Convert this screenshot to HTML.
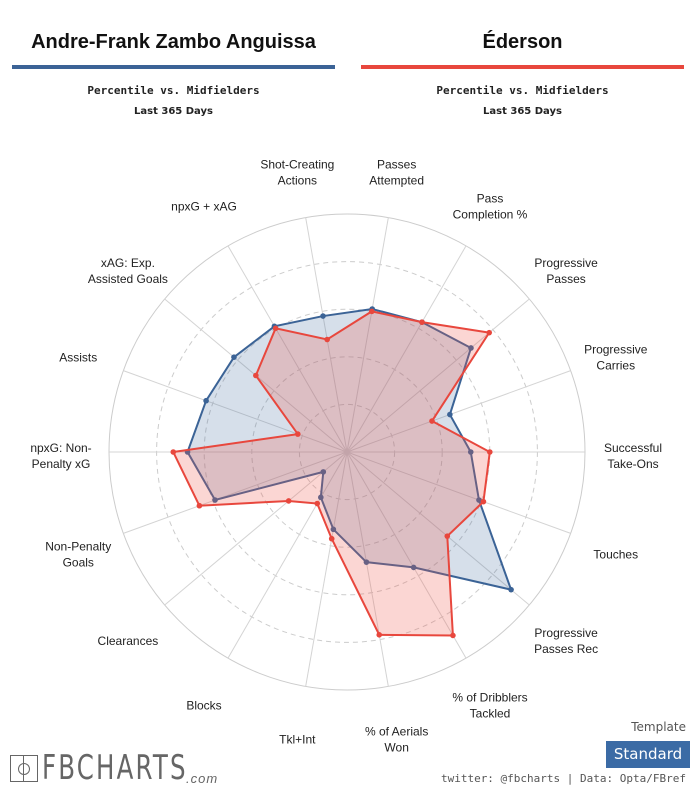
<!DOCTYPE html>
<html><head><meta charset="utf-8"><style>
body{margin:0;width:694px;height:790px;background:#fff;font-family:"Liberation Sans",sans-serif;position:relative;overflow:hidden}
.abs{position:absolute}
.name{font-weight:bold;font-size:20px;color:#111;text-align:center}
.sub{font-family:"DejaVu Sans Mono","Liberation Mono",monospace;font-weight:bold;font-size:11px;color:#222;text-align:center}
.sub2{font-family:"DejaVu Sans",sans-serif;font-weight:bold;font-size:10px;color:#222;text-align:center}
</style></head><body>
<div class="abs name" style="left:12px;top:31px;width:323px">Andre-Frank Zambo Anguissa</div>
<div class="abs" style="left:12px;top:65px;width:323px;height:4px;background:#3b6396"></div>
<div class="abs name" style="left:361px;top:31px;width:323px">Éderson</div>
<div class="abs" style="left:361px;top:65px;width:323px;height:4px;background:#e8473d"></div>
<div class="abs sub" style="left:12px;top:84px;width:323px">Percentile vs. Midfielders</div>
<div class="abs sub2" style="left:12px;top:106px;width:323px">Last 365 Days</div>
<div class="abs sub" style="left:361px;top:84px;width:323px">Percentile vs. Midfielders</div>
<div class="abs sub2" style="left:361px;top:106px;width:323px">Last 365 Days</div>
<svg class="abs" style="left:0;top:0" width="694" height="790" id="chart"></svg>
<div class="abs" style="right:8px;top:720px;font-family:'DejaVu Sans',sans-serif;font-size:12px;color:#555">Template</div>
<div class="abs" style="left:606px;top:741px;width:84px;height:27px;background:#3b6ba5;color:#fff;font-family:'DejaVu Sans',sans-serif;font-size:15px;line-height:27px;text-align:center">Standard</div>
<div class="abs" style="right:8px;top:772px;font-family:'DejaVu Sans Mono',monospace;font-size:11px;color:#555">twitter: @fbcharts | Data: Opta/FBref</div>
<div class="abs" style="left:10px;top:755px;width:26px;height:25px;border:1px solid #666"><div style="position:absolute;left:12px;top:0;width:1px;height:25px;background:#666"></div><div style="position:absolute;left:7px;top:7px;width:10px;height:10px;border:1px solid #666;border-radius:50%"></div></div>
<div class="abs" style="left:42px;top:748px;font-size:34px;color:#666;letter-spacing:3px;transform:scaleX(0.72);transform-origin:left top;font-family:'DejaVu Sans',sans-serif">FBCHARTS</div>
<div class="abs" style="left:186px;top:771px;font-size:13px;color:#666;font-style:italic;letter-spacing:1px">.com</div>
<script>
const categories=["npxG: Non-Penalty xG","Assists","xAG: Exp. Assisted Goals","npxG + xAG","Shot-Creating Actions","Passes Attempted","Pass Completion %","Progressive Passes","Progressive Carries","Successful Take-Ons","Touches","Progressive Passes Rec","% of Dribblers Tackled","% of Aerials Won","Tkl+Int","Blocks","Clearances","Non-Penalty Goals"];
const labelLines=[["npxG: Non-","Penalty xG"],["Assists"],["xAG: Exp.","Assisted Goals"],["npxG + xAG"],["Shot-Creating","Actions"],["Passes","Attempted"],["Pass","Completion %"],["Progressive","Passes"],["Progressive","Carries"],["Successful","Take-Ons"],["Touches"],["Progressive","Passes Rec"],["% of Dribblers","Tackled"],["% of Aerials","Won"],["Tkl+Int"],["Blocks"],["Clearances"],["Non-Penalty","Goals"]];
const player1Values=[67,63,62,61,58,61,63,68,46,52,59,90,56,47,33,22,13,59];
const player2Values=[73,22,50,60,48,60,63,78,38,60,61,55,89,78,37,25,32,66];
const gridLevels=[20,40,60,80,100];
const svg=document.getElementById('chart');const NS='http://www.w3.org/2000/svg';
const cx=347,cy=452,R=238,LR=286;
function ang(i){return Math.PI-i*2*Math.PI/categories.length;}
function pt(i,v){const a=ang(i),r=R*v/100;return [cx+r*Math.cos(a),cy-r*Math.sin(a)];}
function mk(t,at){const e=document.createElementNS(NS,t);for(const k in at)e.setAttribute(k,at[k]);svg.appendChild(e);return e;}
gridLevels.forEach((g,j)=>{const c=mk('circle',{cx:cx,cy:cy,r:R*g/100,fill:'none',stroke:'#ccc','stroke-width':1,'stroke-dasharray':g<100?'5,4':'none'});

});
categories.forEach((c,i)=>{const p=pt(i,100);const l=mk('line',{x1:cx,y1:cy,x2:p[0],y2:p[1],stroke:'#d4d4d4','stroke-width':1});


const a=ang(i);const lx=cx+LR*Math.cos(a),ly=cy-(LR+2)*Math.sin(a)+4;
const lines=labelLines[i];const t=mk('text',{x:lx,'text-anchor':'middle','font-size':12,fill:'#222','font-family':'Liberation Sans, sans-serif'});


lines.forEach((s,k)=>{const ts=document.createElementNS(NS,'tspan');ts.setAttribute('x',lx);ts.setAttribute('y',ly+4+(k-(lines.length-1)/2)*16);ts.textContent=s;t.appendChild(ts);});});
function series(vals,stroke,fill,name){const pts=vals.map((v,i)=>pt(i,v));
const pg=mk('polygon',{points:pts.map(p=>p.join(',')).join(' '),fill:fill,stroke:stroke,'stroke-width':2});


pts.forEach(p=>{const c=mk('circle',{cx:p[0],cy:p[1],r:2.8,fill:stroke});

});}
series(player1Values,'#3b6396','rgba(70,110,160,0.22)','player-1');
series(player2Values,'#e8473d','rgba(240,90,80,0.25)','player-2');
</script>
</body></html>
